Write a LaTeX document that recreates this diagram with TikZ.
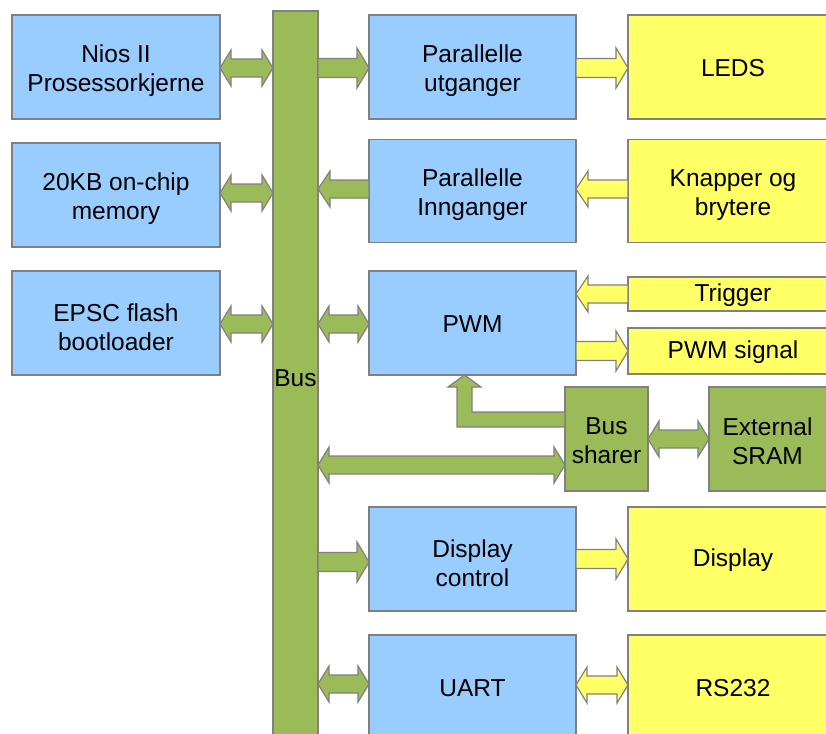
\documentclass[tikz,border=0pt]{standalone}
\usepackage{fontspec}
\setmainfont{Liberation Sans}
\usetikzlibrary{calc}
\definecolor{bblue}{RGB}{153,204,255}
\definecolor{bgreen}{RGB}{155,187,89}
\definecolor{byellow}{RGB}{255,255,102}
\definecolor{bline}{RGB}{128,128,128}
\tikzset{
  box/.style={draw=bline, line width=1.2pt, inner sep=0pt, outer sep=0pt},
  bluebox/.style={box, fill=bblue},
  greenbox/.style={box, fill=bgreen},
  yellowbox/.style={box, fill=byellow},
  txt/.style={inner sep=0pt, align=center, font=\fontsize{24.5}{29}\selectfont},
  garrow/.style={draw=bline, line width=1.2pt, fill=bgreen, line join=miter},
  yarrow/.style={draw=bline, line width=1.2pt, fill=byellow, line join=miter},
}
% right-pointing fat arrow: #1 style, #2 start anchor, #3 end anchor, #4 y
\newcommand\fatR[4]{\path[#1] let \p1=(#2), \p2=(#3), \p3=(0,#4) in
  (\x1,{\y3+9.5pt}) -- ({\x2-12pt},{\y3+9.5pt}) -- ({\x2-12pt},{\y3+20pt}) -- (\x2,\y3)
  -- ({\x2-12pt},{\y3-20pt}) -- ({\x2-12pt},{\y3-9.5pt}) -- (\x1,{\y3-9.5pt}) -- cycle;}
% left-pointing fat arrow: tip at #2
\newcommand\fatL[4]{\path[#1] let \p1=(#2), \p2=(#3), \p3=(0,#4) in
  (\x2,{\y3+9pt}) -- ({\x1+12pt},{\y3+9pt}) -- ({\x1+12pt},{\y3+18pt}) -- (\x1,\y3)
  -- ({\x1+12pt},{\y3-18pt}) -- ({\x1+12pt},{\y3-9pt}) -- (\x2,{\y3-9pt}) -- cycle;}
% double fat arrow
\newcommand\fatD[4]{\path[#1] let \p1=(#2), \p2=(#3), \p3=(0,#4) in
  (\x1,\y3) -- ({\x1+11pt},{\y3+18pt}) -- ({\x1+11pt},{\y3+9pt}) -- ({\x2-11pt},{\y3+9pt})
  -- ({\x2-11pt},{\y3+18pt}) -- (\x2,\y3) -- ({\x2-11pt},{\y3-18pt}) -- ({\x2-11pt},{\y3-9pt})
  -- ({\x1+11pt},{\y3-9pt}) -- ({\x1+11pt},{\y3-18pt}) -- cycle;}
\begin{document}
\begin{tikzpicture}[x=1pt,y=-1pt]
\useasboundingbox (0,0) rectangle (826,733);
\clip (0,0) rectangle (826,733);
% left column
\node[bluebox, minimum width=208pt, minimum height=104pt] (nios) at (116,67) {};
\node[bluebox, minimum width=208pt, minimum height=104pt] (mem) at (116,195) {};
\node[bluebox, minimum width=208pt, minimum height=104pt] (epsc) at (116,323) {};
% bus
\node[greenbox, minimum width=45pt, minimum height=740pt] (bus) at (295.5,381) {};
% middle column
\node[bluebox, minimum width=207pt, minimum height=104pt] (parout) at (472.5,67) {};
\node[bluebox, minimum width=207pt, minimum height=103pt] (parin) at (472.5,191) {};
\node[bluebox, minimum width=207pt, minimum height=104pt] (pwm) at (472.5,323) {};
\node[bluebox, minimum width=207pt, minimum height=104pt] (dispc) at (472.5,559) {};
\node[bluebox, minimum width=207pt, minimum height=110pt] (uart) at (472.5,690) {};
% right column
\node[yellowbox, minimum width=210pt, minimum height=104pt] (leds) at (733,67) {};
\node[yellowbox, minimum width=210pt, minimum height=103pt] (knap) at (733,191) {};
\node[yellowbox, minimum width=210pt, minimum height=34pt] (trig) at (733,294) {};
\node[yellowbox, minimum width=210pt, minimum height=46pt] (pwmsig) at (733,351) {};
\node[yellowbox, minimum width=210pt, minimum height=104pt] (disp) at (733,559) {};
\node[yellowbox, minimum width=210pt, minimum height=110pt] (rs) at (733,690) {};
% bus sharer and SRAM
\node[greenbox, minimum width=83pt, minimum height=104pt] (bsh) at (606.5,439) {};
\node[greenbox, minimum width=121pt, minimum height=104pt] (sram) at (769.5,439) {};
% texts
\node[txt] (niosT) at ($(nios)+(0,4)$) {Nios II\\Prosessorkjerne};
\node[txt] (memT) at ($(mem)+(0,4)$) {20KB on-chip\\memory};
\node[txt] (epscT) at ($(epsc)+(0,4)$) {EPSC flash\\bootloader};
\node[txt] (busT) at (295.5,378) {Bus};
\node[txt] (paroutT) at ($(parout)+(0,4)$) {Parallelle\\utganger};
\node[txt] (parinT) at ($(parin)+(0,4)$) {Parallelle\\Innganger};
\node[txt] (pwmT) at ($(pwm)+(0,1.5)$) {PWM};
\node[txt] (dispcT) at ($(dispc)+(0,4)$) {Display\\control};
\node[txt] (uartT) at (472.5,688) {UART};
\node[txt] (ledsT) at ($(leds)+(0,1.5)$) {LEDS};
\node[txt] (knapT) at ($(knap)+(0,4)$) {Knapper og\\brytere};
\node[txt] (trigT) at ($(trig)+(0,1.5)$) {Trigger};
\node[txt] (pwmsigT) at ($(pwmsig)+(0,1.5)$) {PWM signal};
\node[txt] (dispT) at ($(disp)+(0,1.5)$) {Display};
\node[txt] (rsT) at (733,688) {RS232};
\node[txt] (bshT) at ($(bsh)+(0,2)$) {Bus\\sharer};
\node[txt] (sramT) at (767.5,441) {External\\SRAM};
% arrows
\fatD{garrow}{nios.east}{bus.west}{68}
\fatR{garrow}{bus.east}{parout.west}{68}
\fatR{yarrow}{parout.east}{leds.west}{68}
\fatD{garrow}{mem.east}{bus.west}{193}
\fatL{garrow}{bus.east}{parin.west}{189}
\fatL{yarrow}{parin.east}{knap.west}{189}
\fatD{garrow}{epsc.east}{bus.west}{324}
\fatD{garrow}{bus.east}{pwm.west}{324}
\fatL{yarrow}{pwm.east}{trig.west}{294}
\fatR{yarrow}{pwm.east}{pwmsig.west}{351}
\path[garrow] let \p1=(bsh.west), \p2=(pwm.south) in
  (\x1,-412pt) -- (472pt,-412pt) -- (472pt,-387pt) -- (481pt,-387pt) -- (464.5pt,\y2)
  -- (448pt,-387pt) -- (457pt,-387pt) -- (457pt,-427pt) -- (\x1,-427pt) -- cycle;
\fatD{garrow}{bus.east}{bsh.west}{465}
\fatD{garrow}{bsh.east}{sram.west}{439}
\fatR{garrow}{bus.east}{dispc.west}{562}
\fatR{yarrow}{dispc.east}{disp.west}{559}
\fatD{garrow}{bus.east}{uart.west}{684}
\fatD{yarrow}{uart.east}{rs.west}{685}
\end{tikzpicture}
\end{document}
